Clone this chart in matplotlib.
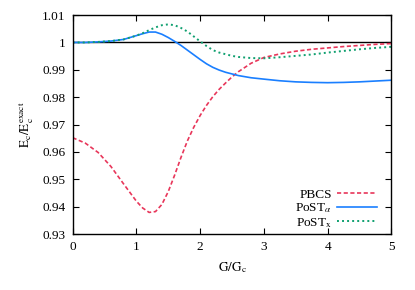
import matplotlib
matplotlib.use("Agg")
import matplotlib.pyplot as plt

# values
G = [0.0, 0.2, 0.4, 0.6, 0.8, 1.0, 1.1, 1.2, 1.3, 1.4, 1.5, 1.6, 1.7, 1.8, 1.9,
     2.0, 2.1, 2.2, 2.3, 2.4, 2.5, 2.6, 2.8, 3.0, 3.25, 3.5, 3.75, 4.0, 4.25,
     4.5, 4.75, 5.0]
pbcs = [0.9652, 0.9632, 0.9598, 0.9547, 0.9483, 0.9420, 0.9395, 0.9379, 0.9382,
        0.9408, 0.9455, 0.9515, 0.9580, 0.9640, 0.9690, 0.9733, 0.9770, 0.9802,
        0.9829, 0.9852, 0.9874, 0.9893, 0.9924, 0.9945, 0.9958, 0.9968, 0.9975,
        0.9980, 0.9985, 0.9989, 0.9993, 0.9996]
post_alpha = [1.0000, 1.0000, 1.0002, 1.0005, 1.0011, 1.0025, 1.0032, 1.0038,
              1.0038, 1.0030, 1.0018, 1.0004, 0.9989, 0.9972, 0.9955, 0.9938,
              0.9922, 0.9909, 0.9899, 0.9891, 0.9885, 0.9879, 0.9871, 0.9866,
              0.9860, 0.9856, 0.9854, 0.9853, 0.9854, 0.9856, 0.9859, 0.9862]
post_x = [1.0000, 1.0000, 1.0002, 1.0005, 1.0011, 1.0025, 1.0034, 1.0045,
          1.0055, 1.0063, 1.0066, 1.0063, 1.0053, 1.0040, 1.0022, 1.0004,
          0.9987, 0.9972, 0.9963, 0.9957, 0.9951, 0.9947, 0.9943, 0.9942,
          0.9946, 0.9951, 0.9956, 0.9963, 0.9969, 0.9975, 0.9980, 0.9984]

xticks = [0, 1, 2, 3, 4, 5]
yticks = [0.93, 0.94, 0.95, 0.96, 0.97, 0.98, 0.99, 1.0, 1.01]
yticklabels = ["0.93", "0.94", "0.95", "0.96", "0.97", "0.98", "0.99", "1", "1.01"]

plt.rcParams['font.family'] = ['Liberation Serif', 'DejaVu Serif']
plt.rcParams['mathtext.fontset'] = 'stix'
plt.rcParams['font.size'] = 9.5

fig = plt.figure(figsize=(4.15, 2.9), dpi=100)
ax = fig.add_axes([0.175, 0.193, 0.768, 0.755])

ax.axhline(1.0, color='black', lw=1.0)
ax.plot(G, pbcs, color='#e8365a', lw=1.2, dashes=(2.5, 1.5), label='PBCS')
ax.plot(G, post_alpha, color='#1a7fff', lw=1.2, label=r'PoST$_\alpha$')
ax.plot(G, post_x, color='#10a070', lw=1.4, dashes=(1, 1.6), label=r'PoST$_\mathrm{x}$')

ax.set_xlim(0, 5)
ax.set_ylim(0.93, 1.01)
ax.set_xticks(xticks)
ax.set_yticks(yticks)
ax.set_yticklabels(yticklabels)
ax.tick_params(direction='in', top=True, right=True, length=4, width=0.8, pad=5)
for s in ax.spines.values():
    s.set_linewidth(1.0)

ax.set_xlabel(r'$\mathrm{G/G_c}$', labelpad=5)
ax.set_ylabel(r'$\mathrm{E_c/E_c^{exact}}$', labelpad=5)

ax.legend(loc='lower right', bbox_to_anchor=(0.955, 0.02), frameon=False,
          markerfirst=False, handlelength=3.0, handletextpad=0.4,
          labelspacing=0.05, borderaxespad=0, borderpad=0)

fig.savefig('out.png', dpi=100)
